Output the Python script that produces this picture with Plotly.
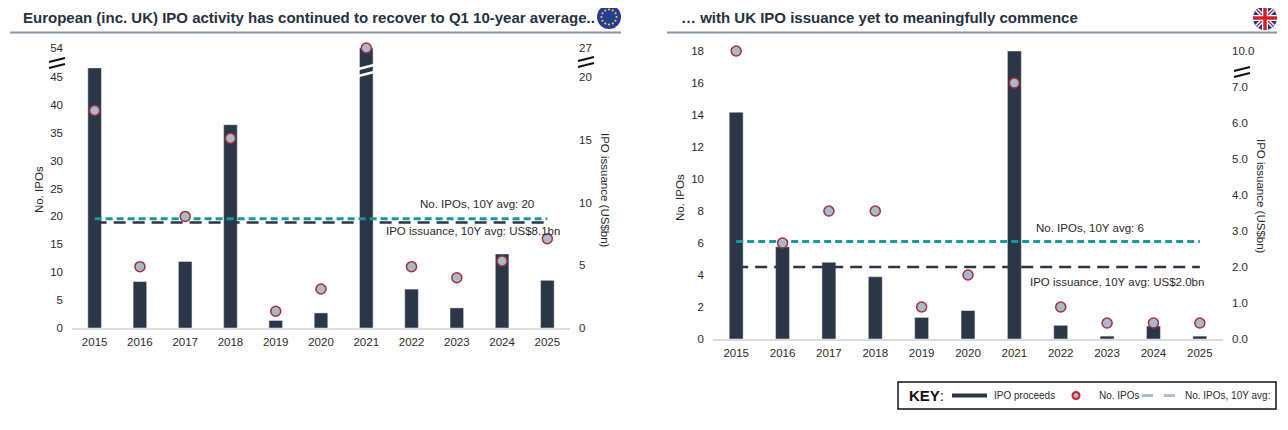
import math
import plotly.graph_objects as go

# page is 1288x430; the browser body keeps an 8px margin, so the figure is 1272x414
PAGE_W, PAGE_H = 1288, 430
OFF = 8
W, H = PAGE_W - 2 * OFF, PAGE_H - 2 * OFF

# ---------------- data ----------------
years = [str(y) for y in range(2015, 2026)]

eu_issuance = [22.2, 3.7, 5.3, 16.2, 0.6, 1.2, 27.0, 3.1, 1.6, 5.9, 3.8]   # US$bn (bars, right axis)
eu_ipos = [39, 11, 20, 34, 3, 7, 54, 11, 9, 12, 16]                        # No. IPOs (dots, left axis)
eu_ipo_avg = 19.6
eu_issuance_avg = 8.4

uk_issuance = [6.3, 2.56, 2.13, 1.73, 0.6, 0.79, 10.0, 0.38, 0.08, 0.36, 0.08]
uk_ipos = [18, 6, 8, 8, 2, 4, 16, 2, 1, 1, 1]
uk_ipo_avg = 6.1
uk_issuance_avg = 2.0

# axis breaks / ranges
eu_left_break, eu_left_top = 45, 54
eu_right_break, eu_right_top = 20, 27
uk_left_break, uk_left_top = 15.75, 18
uk_right_break, uk_right_top = 7, 10

eu_left_ticks = [0, 5, 10, 15, 20, 25, 30, 35, 40, 45]
eu_left_top_ticks = [54]
eu_right_ticks = [0, 5, 10, 15, 20]
eu_right_top_ticks = [27]
uk_left_ticks = [0, 2, 4, 6, 8, 10, 12, 14]
uk_left_top_ticks = [16, 18]
uk_right_ticks = [0, 1, 2, 3, 4, 5, 6, 7]
uk_right_top_ticks = [10]

eu_title = "European (inc. UK) IPO activity has continued to recover to Q1 10-year average.."
uk_title = "… with UK IPO issuance yet to meaningfully commence"
avg_labels = {
    "eu_ipo": "No. IPOs, 10Y avg: 20",
    "eu_iss": "IPO issuance, 10Y avg: US$8.1bn",
    "uk_ipo": "No. IPOs, 10Y avg: 6",
    "uk_iss": "IPO issuance, 10Y avg: US$2.0bn",
}

# ---------------- style ----------------
NAVY = "#2b3646"
TEAL = "#16999a"
DOT_FILL = "#a9b9c7"
DOT_LINE = "#a3303f"
TXT = "#2a2a2a"
FONT = "Liberation Sans, Arial, sans-serif"


def px(x):
    return (x - OFF) / W


def py(y):
    return 1 - (y - OFF) / H


fig = go.Figure()

# ======== LEFT CHART (Europe) ========
fig.add_trace(go.Bar(x=years, y=eu_issuance, xaxis="x", yaxis="y", marker_color=NAVY,
                     width=0.3, showlegend=False))
fig.add_trace(go.Scatter(x=[years[0], years[-1]], y=[eu_issuance_avg] * 2, xaxis="x", yaxis="y",
                         mode="lines", line=dict(color=NAVY, width=2.5, dash="12px,7px"),
                         showlegend=False))
fig.add_trace(go.Bar(x=years, y=eu_issuance, xaxis="x2", yaxis="y3", marker_color=NAVY,
                     width=0.3, showlegend=False))
fig.add_trace(go.Scatter(x=[years[0], years[-1]], y=[eu_ipo_avg] * 2, xaxis="x", yaxis="y2",
                         mode="lines", line=dict(color=TEAL, width=3, dash="7px,4px"),
                         showlegend=False))
lo = [(yr, v) for yr, v in zip(years, eu_ipos) if v <= eu_left_break]
hi = [(yr, v) for yr, v in zip(years, eu_ipos) if v > eu_left_break]
dot_marker = dict(size=10, color=DOT_FILL, line=dict(color=DOT_LINE, width=1.5))
fig.add_trace(go.Scatter(x=[a for a, b in lo], y=[b for a, b in lo], xaxis="x", yaxis="y2",
                         mode="markers", marker=dot_marker, cliponaxis=False, showlegend=False))
fig.add_trace(go.Scatter(x=[a for a, b in hi], y=[b for a, b in hi], xaxis="x2", yaxis="y4",
                         mode="markers", marker=dot_marker, cliponaxis=False, showlegend=False))

# ======== RIGHT CHART (UK) ========
fig.add_trace(go.Bar(x=years, y=uk_issuance, xaxis="x3", yaxis="y5", marker_color=NAVY,
                     width=0.3, showlegend=False))
fig.add_trace(go.Scatter(x=[years[0], years[-1]], y=[uk_issuance_avg] * 2, xaxis="x3", yaxis="y5",
                         mode="lines", line=dict(color=NAVY, width=2.5, dash="12px,7px"),
                         showlegend=False))
fig.add_trace(go.Bar(x=years, y=uk_issuance, xaxis="x4", yaxis="y7", marker_color=NAVY,
                     width=0.3, showlegend=False))
fig.add_trace(go.Scatter(x=[years[0], years[-1]], y=[uk_ipo_avg] * 2, xaxis="x3", yaxis="y6",
                         mode="lines", line=dict(color=TEAL, width=3, dash="7px,4px"),
                         showlegend=False))
lo = [(yr, v) for yr, v in zip(years, uk_ipos) if v <= uk_left_break]
hi = [(yr, v) for yr, v in zip(years, uk_ipos) if v > uk_left_break]
fig.add_trace(go.Scatter(x=[a for a, b in lo], y=[b for a, b in lo], xaxis="x3", yaxis="y6",
                         mode="markers", marker=dot_marker, cliponaxis=False, showlegend=False))
fig.add_trace(go.Scatter(x=[a for a, b in hi], y=[b for a, b in hi], xaxis="x4", yaxis="y8",
                         mode="markers", marker=dot_marker, cliponaxis=False, showlegend=False))

tickfont = dict(family=FONT, size=11.5, color=TXT)


def yax(domain, rng, ticks, side, anchor, overlaying=None, fmt=None):
    d = dict(domain=domain, range=rng, autorange=False, tickmode="array", tickvals=ticks,
             ticktext=[(fmt.format(t) if fmt else str(t)) for t in ticks],
             side=side, anchor=anchor, showgrid=False, zeroline=False, showline=False,
             ticks="", tickfont=tickfont, ticklabelstandoff=8, fixedrange=True, automargin=False)
    if overlaying:
        d["overlaying"] = overlaying
    return d


eu_xdom = [px(72), px(570)]
uk_xdom = [px(713), px(1223)]
eu_low = [py(328), py(77)]
eu_up = [py(77), py(48)]
uk_low = [py(339), py(87)]
uk_up = [py(87), py(51)]

xrange_cat = [-0.5, len(years) - 0.5]
xcommon = dict(type="category", showgrid=False, zeroline=False, ticks="", tickfont=tickfont,
               fixedrange=True, automargin=False, range=xrange_cat, autorange=False)

fig.update_layout(
    width=W, height=H, autosize=False,
    margin=dict(l=0, r=0, t=0, b=0, pad=0),
    paper_bgcolor="white", plot_bgcolor="rgba(0,0,0,0)",
    font=dict(family=FONT, color=TXT),
    showlegend=False,
    barmode="overlay",
    xaxis=dict(domain=eu_xdom, anchor="y", showline=True, linecolor="#dcdcdc", linewidth=1.5,
               ticklabelstandoff=2, **xcommon),
    xaxis2=dict(domain=eu_xdom, anchor="y3", matches="x", visible=False, **xcommon),
    xaxis3=dict(domain=uk_xdom, anchor="y5", showline=True, linecolor="#dcdcdc", linewidth=1.5,
                ticklabelstandoff=2, **xcommon),
    xaxis4=dict(domain=uk_xdom, anchor="y7", matches="x3", visible=False, **xcommon),
    yaxis=yax(eu_low, [0, eu_right_break], eu_right_ticks, "right", "x"),
    yaxis2=yax(eu_low, [0, eu_left_break], eu_left_ticks, "left", "x", overlaying="y"),
    yaxis3=yax(eu_up, [eu_right_break, eu_right_top], eu_right_top_ticks, "right", "x2"),
    yaxis4=yax(eu_up, [eu_left_break, eu_left_top], eu_left_top_ticks, "left", "x2", overlaying="y3"),
    yaxis5=yax(uk_low, [0, uk_right_break], uk_right_ticks, "right", "x3", fmt="{:.1f}"),
    yaxis6=yax(uk_low, [0, uk_left_break], uk_left_ticks, "left", "x3", overlaying="y5"),
    yaxis7=yax(uk_up, [uk_right_break, uk_right_top], uk_right_top_ticks, "right", "x4", fmt="{:.1f}"),
    yaxis8=yax(uk_up, [uk_left_break, uk_left_top], uk_left_top_ticks, "left", "x4", overlaying="y7"),
)

ann = []
shapes = []


def text(x, y, s, size=11.5, color=TXT, xanchor="center", angle=0, bold=False):
    ann.append(dict(x=px(x), y=py(y), xref="paper", yref="paper", text=(f"<b>{s}</b>" if bold else s),
                    showarrow=False, xanchor=xanchor, yanchor="middle", textangle=angle,
                    font=dict(family=FONT, size=size, color=color)))


def line(x0, y0, x1, y1, color, width, dash=None):
    shapes.append(dict(type="line", xref="paper", yref="paper", x0=px(x0), y0=py(y0),
                       x1=px(x1), y1=py(y1), line=dict(color=color, width=width, dash=dash)))


def circle(cx, cy, r, fill, lc=None, lw=0):
    shapes.append(dict(type="circle", xref="paper", yref="paper", x0=px(cx - r), x1=px(cx + r),
                       y0=py(cy + r), y1=py(cy - r), fillcolor=fill,
                       line=dict(color=lc or fill, width=lw)))


# titles
text(21, 18, eu_title, size=15, color="#27313f", xanchor="left", bold=True)
text(679, 18, uk_title, size=15, color="#27313f", xanchor="left", bold=True)
line(10, 32.5, 621, 32.5, "#8c95a2", 2)
line(667, 32.5, 1277, 32.5, "#8c95a2", 2)

# axis titles
text(39, 190, "No. IPOs", size=11.5, angle=-90)
text(605, 190, "IPO issuance (US$bn)", size=11.5, angle=90)
text(680, 198, "No. IPOs", size=11.5, angle=-90)
text(1261, 196, "IPO issuance (US$bn)", size=11.5, angle=90)

# average labels
text(477, 204, avg_labels["eu_ipo"], size=11.5)
text(473, 231, avg_labels["eu_iss"], size=11.5)
text(1090, 228, avg_labels["uk_ipo"], size=11.5)
text(1117, 282, avg_labels["uk_iss"], size=11.5)

# axis break marks
for (x0, x1, yc) in [(49, 65, 63), (578, 594, 62), (1234, 1250, 72)]:
    line(x0, yc - 1, x1, yc - 5, "#111111", 2)
    line(x0, yc + 5, x1, yc + 1, "#111111", 2)

# white break stripes on 2021 EU bar (category index 6)
for yc in (67, 74):
    shapes.append(dict(type="line", xref="x2", yref="paper", x0=5.83, x1=6.17,
                       y0=py(yc + 2), y1=py(yc - 2), line=dict(color="white", width=2.5)))

# EU flag
circle(609, 17, 12, "#243b9a")
for k in range(12):
    a = 2 * math.pi * k / 12
    circle(609 + 7.5 * math.cos(a), 17 + 7.5 * math.sin(a), 1.1, "#f5d300")

# UK flag
cx, cy, r = 1265, 18, 12
circle(cx, cy, r, "#1d3c8f")
d = r * 0.707
line(cx - d, cy - d, cx + d, cy + d, "white", 4)
line(cx - d, cy + d, cx + d, cy - d, "white", 4)
line(cx - d, cy - d, cx + d, cy + d, "#d0202e", 1.5)
line(cx - d, cy + d, cx + d, cy - d, "#d0202e", 1.5)
line(cx, cy - r, cx, cy + r, "white", 6)
line(cx - r, cy, cx + r, cy, "white", 6)
line(cx, cy - r, cx, cy + r, "#d0202e", 3.5)
line(cx - r, cy, cx + r, cy, "#d0202e", 3.5)

# KEY box
shapes.append(dict(type="rect", xref="paper", yref="paper", x0=px(898), x1=px(1276),
                   y0=py(409), y1=py(382), fillcolor="white", line=dict(color="#111111", width=1.5)))
ann.append(dict(x=px(907), y=py(395.5), xref="paper", yref="paper", text="<b>KEY</b>:",
                showarrow=False, xanchor="left", yanchor="middle",
                font=dict(family=FONT, size=15, color="#111111")))
line(952, 395.5, 987, 395.5, NAVY, 4)
text(992, 395.5, "IPO proceeds", size=10, xanchor="left")
circle(1076, 395.5, 3.5, DOT_FILL, "#cc2030", 2)
text(1097, 395.5, "No. IPOs", size=10, xanchor="left")
line(1142, 395.5, 1153, 395.5, "#a9bfcf", 3)
line(1164, 395.5, 1175, 395.5, "#a9bfcf", 3)
text(1183, 395.5, "No. IPOs, 10Y avg:", size=10, xanchor="left")

fig.update_layout(annotations=ann, shapes=shapes)

fig.write_html("out.html")
